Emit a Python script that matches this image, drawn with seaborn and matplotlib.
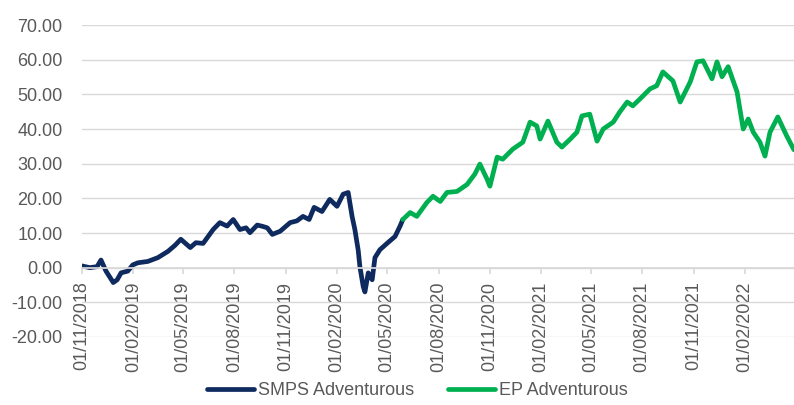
import pandas as pd
import matplotlib
matplotlib.use("Agg")
import matplotlib.pyplot as plt
import matplotlib.dates as mdates
import seaborn as sns

# ---------------------------
# DATA
# ---------------------------
smps_dates = [
    "2018-11-01", "2018-11-15", "2018-11-28", "2018-12-05", "2018-12-14", "2018-12-27",
    "2019-01-03", "2019-01-10", "2019-01-22", "2019-01-31", "2019-02-09", "2019-02-27",
    "2019-03-17", "2019-04-04", "2019-04-17", "2019-04-27", "2019-05-14", "2019-05-24",
    "2019-06-06", "2019-06-24", "2019-07-06", "2019-07-19", "2019-07-30", "2019-08-11",
    "2019-08-22", "2019-08-29", "2019-09-11", "2019-09-21", "2019-09-29", "2019-10-08",
    "2019-10-22", "2019-11-09", "2019-11-21", "2019-12-02", "2019-12-13", "2019-12-22",
    "2020-01-05", "2020-01-19", "2020-02-01", "2020-02-12", "2020-02-21", "2020-02-28",
    "2020-03-04", "2020-03-10", "2020-03-13", "2020-03-19", "2020-03-22", "2020-03-28",
    "2020-04-04", "2020-04-09", "2020-04-18", "2020-05-02", "2020-05-15", "2020-05-24",
    "2020-05-29",
]
smps_values = [
    0.5, 0.0, 0.3, 2.2, -1.0, -4.3,
    -3.5, -1.5, -1.0, 0.8, 1.4, 1.8,
    2.9, 4.7, 6.5, 8.2, 5.8, 7.2,
    7.0, 11.0, 13.0, 12.0, 13.9, 11.0,
    11.5, 10.1, 12.3, 11.9, 11.5, 9.6,
    10.5, 13.0, 13.5, 14.8, 13.9, 17.4,
    16.2, 19.7, 17.7, 21.2, 21.7, 14.8,
    11.0, 5.0, 0.3, -5.5, -7.0, -1.5,
    -3.5, 2.9, 5.2, 7.2, 9.0, 12.0,
    13.9,
]

ep_dates = [
    "2020-05-29", "2020-06-11", "2020-06-23", "2020-07-11", "2020-07-22", "2020-08-04",
    "2020-08-16", "2020-09-03", "2020-09-21", "2020-10-05", "2020-10-14", "2020-10-27",
    "2020-11-01", "2020-11-14", "2020-11-24", "2020-12-12", "2020-12-30", "2021-01-12",
    "2021-01-24", "2021-01-30", "2021-02-13", "2021-03-01", "2021-03-10", "2021-03-25",
    "2021-04-06", "2021-04-15", "2021-04-29", "2021-05-12", "2021-05-23", "2021-06-10",
    "2021-06-22", "2021-07-05", "2021-07-15", "2021-07-28", "2021-08-15", "2021-08-27",
    "2021-09-07", "2021-09-25", "2021-10-08", "2021-10-26", "2021-11-07", "2021-11-18",
    "2021-12-04", "2021-12-13", "2021-12-22", "2022-01-02", "2022-01-18", "2022-01-29",
    "2022-02-07", "2022-02-16", "2022-02-28", "2022-03-09", "2022-03-18", "2022-04-01",
    "2022-04-17", "2022-04-30",
]
ep_values = [
    13.9, 15.9, 14.8, 18.8, 20.6, 19.1,
    21.7, 22.0, 24.0, 27.0, 29.9, 25.5,
    23.5, 31.9, 31.3, 34.2, 36.2, 42.0,
    40.9, 37.1, 42.3, 36.2, 34.8, 37.1,
    39.1, 43.8, 44.3, 36.5, 40.0, 42.0,
    45.0, 47.8, 46.7, 48.7, 51.6, 52.5,
    56.5, 53.9, 47.8, 53.6, 59.4, 59.7,
    54.5, 59.4, 55.1, 58.0, 50.7, 40.0,
    42.9, 39.1, 36.2, 32.2, 39.1, 43.5,
    38.0, 34.0,
]

series_names = ["SMPS Adventurous", "EP Adventurous"]
series_colors = ["#0e2a5e", "#00b050"]

df = pd.concat([
    pd.DataFrame({"date": pd.to_datetime(smps_dates), "value": smps_values, "series": series_names[0]}),
    pd.DataFrame({"date": pd.to_datetime(ep_dates), "value": ep_values, "series": series_names[1]}),
])

# ---------------------------
# PLOT
# ---------------------------
sns.set_theme(style="white")
plt.rcParams["font.family"] = ["Liberation Sans", "DejaVu Sans"]
text_grey = "#595959"

fig = plt.figure(figsize=(7.94, 4.05), dpi=100)
ax = fig.add_axes([0.1033, 0.168, 0.8967, 0.77])

sns.lineplot(data=df, x="date", y="value", hue="series", hue_order=series_names,
             palette=series_colors, linewidth=3.4, ax=ax, legend=False)

ax.set_ylim(-20, 70)
ax.set_yticks(range(-20, 71, 10))
ax.yaxis.set_major_formatter(matplotlib.ticker.FuncFormatter(lambda v, _: f"{v:.2f}"))
ax.set_xlim(pd.Timestamp("2018-11-01"), pd.Timestamp(ep_dates[-1]))
ax.xaxis.set_major_locator(mdates.MonthLocator(bymonth=[2, 5, 8, 11], bymonthday=1))
ax.xaxis.set_major_formatter(mdates.DateFormatter("%d/%m/%Y"))

ax.grid(axis="y", color="#d9d9d9", linewidth=1)
ax.grid(axis="x", visible=False)
ax.set_axisbelow(True)
for side in ["left", "right", "top"]:
    ax.spines[side].set_visible(False)
ax.spines["bottom"].set_position(("data", 0))
ax.spines["bottom"].set_color("#d9d9d9")

ax.tick_params(axis="y", length=0, pad=14, labelsize=13, labelcolor=text_grey)
ax.tick_params(axis="x", direction="out", length=4, color="#d9d9d9", pad=6,
               labelsize=13, labelcolor=text_grey, rotation=90, bottom=True)
ax.set_xlabel("")
ax.set_ylabel("")

handles = [plt.Line2D([], [], color=c, linewidth=3.4) for c in series_colors]
fig.legend(handles, series_names, loc="lower center", bbox_to_anchor=(0.526, -0.025),
           ncol=2, frameon=False, fontsize=13, labelcolor=text_grey,
           handlelength=2.6, handletextpad=0.2, columnspacing=1.9)

fig.savefig("out.png", dpi=100)
